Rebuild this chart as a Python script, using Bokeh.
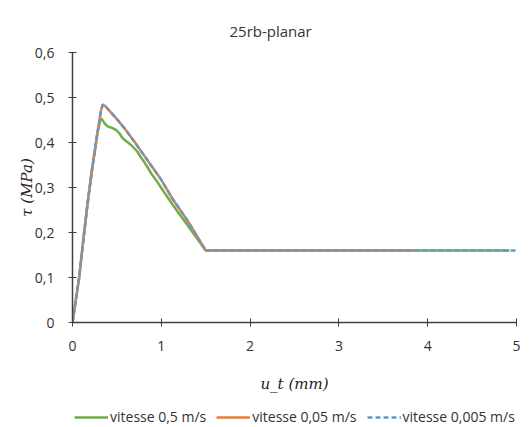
from bokeh.plotting import figure
from bokeh.layouts import column
from bokeh.models import FixedTicker, CustomJSTickFormatter, Legend, LegendItem, Range1d
from bokeh.embed import file_html
from bokeh.resources import INLINE

# data
x_green = [0, 0.075, 0.12, 0.17, 0.22, 0.28, 0.31, 0.327, 0.36, 0.394, 0.45, 0.49, 0.526, 0.563, 0.61, 0.657,
           0.73, 0.77, 0.81, 0.845, 0.9, 0.957, 1.03, 1.1, 1.16, 1.3, 1.5, 2.0, 3.0, 4.0, 4.92]
y_green = [0, 0.1, 0.18, 0.265, 0.34, 0.42, 0.448, 0.453, 0.443, 0.436, 0.432, 0.428, 0.421, 0.41, 0.402, 0.395,
           0.38, 0.367, 0.356, 0.345, 0.327, 0.312, 0.29, 0.27, 0.253, 0.215, 0.16, 0.16, 0.16, 0.16, 0.16]

x_orange = [0, 0.075, 0.12, 0.17, 0.22, 0.28, 0.32, 0.34, 0.37, 0.4, 0.5, 0.6, 0.7, 0.8, 0.9, 1.0, 1.126, 1.3, 1.5,
            2.0, 3.0, 3.85]
y_orange = [0, 0.1, 0.18, 0.265, 0.34, 0.42, 0.47, 0.484, 0.481, 0.474, 0.452, 0.428, 0.401, 0.373, 0.345, 0.317,
            0.275, 0.225, 0.16, 0.16, 0.16, 0.16]

x_blue = [0, 0.075, 0.12, 0.17, 0.22, 0.28, 0.32, 0.34, 0.37, 0.4, 0.5, 0.6, 0.7, 0.8, 0.9, 1.0, 1.126, 1.3, 1.5,
          2.0, 3.0, 4.0, 5.0]
y_blue = [0, 0.1, 0.18, 0.265, 0.34, 0.42, 0.47, 0.484, 0.481, 0.474, 0.452, 0.428, 0.401, 0.373, 0.345, 0.317,
          0.275, 0.225, 0.16, 0.16, 0.16, 0.16, 0.16]

x_ticks = [0, 1, 2, 3, 4, 5]
y_ticks = [0, 0.1, 0.2, 0.3, 0.4, 0.5, 0.6]

series_x = [x_green, x_orange, x_blue]
series_y = [y_green, y_orange, y_blue]
series_labels = ["vitesse 0,5 m/s", "vitesse 0,05 m/s", "vitesse 0,005 m/s"]
series_colors = ["#70AD47", "#ED7D31", "#5B9BD5"]
series_dash = ["solid", "solid", "5 3"]
title_text = "25rb-planar"

FONT = "Open Sans"
AX = "#404040"

p = figure(frame_width=444, frame_height=270, output_backend="svg", toolbar_location=None,
           x_range=Range1d(0, 5), y_range=Range1d(0, 0.6),
           min_border_left=72, min_border_right=4, min_border_top=52, min_border_bottom=70)
p.outline_line_color = None
p.grid.grid_line_color = None

p.title.text = title_text
p.title.align = "left"
p.title.offset = 157
p.title.text_font = FONT
p.title.text_font_size = "15px"
p.title.text_font_style = "normal"
p.title.text_color = "#333333"
p.title.standoff = 24

for xs, ys, col, dsh in zip(series_x, series_y, series_colors, series_dash):
    p.line(xs, ys, line_color=col, line_width=2.5, line_dash=dsh)

p.xaxis.ticker = FixedTicker(ticks=x_ticks)
p.yaxis.ticker = FixedTicker(ticks=y_ticks)
fmt = CustomJSTickFormatter(code="return tick == 0 ? '0' : (Math.round(tick*10)/10).toString().replace('.', ',');")
p.xaxis.formatter = fmt
p.yaxis.formatter = fmt

for ax in (p.xaxis, p.yaxis):
    ax.axis_line_color = AX
    ax.axis_line_width = 1.5
    ax.major_tick_line_color = AX
    ax.major_tick_in = 4
    ax.major_tick_out = 4
    ax.minor_tick_line_color = None
    ax.major_label_text_font = FONT
    ax.major_label_text_font_size = "14px"
    ax.major_label_text_color = "#333333"
    ax.axis_label_text_font = "DejaVu Serif"
    ax.axis_label_text_font_size = "15px"
    ax.axis_label_text_color = "#222222"

p.xaxis.axis_label = "u_t (mm)"
p.xaxis.axis_label_text_font_style = "italic"
p.xaxis.axis_label_standoff = 21
p.xaxis.major_label_standoff = 14
p.yaxis.axis_label = "τ (MPa)"
p.yaxis.axis_label_text_font_style = "italic"
p.yaxis.axis_label_standoff = -4
p.yaxis.major_label_standoff = 14

# legend strip (same series, drawn outside its visible range so only the legend shows)
q = figure(width=520, height=34, output_backend="svg", toolbar_location=None,
           x_axis_type=None, y_axis_type=None,
           x_range=Range1d(0, 5), y_range=Range1d(10, 11), min_border=0)
q.outline_line_color = None
q.grid.grid_line_color = None
items = []
for xs, ys, lab, col, dsh in zip(series_x, series_y, series_labels, series_colors, series_dash):
    r = q.line(xs, ys, line_color=col, line_width=2.5, line_dash=dsh)
    items.append(LegendItem(label=lab, renderers=[r]))
legend = Legend(items=items, orientation="horizontal", location=(2, 3),
                label_text_font=FONT, label_text_font_size="14px", label_text_color="#333333",
                border_line_color=None, background_fill_alpha=0,
                glyph_width=34, glyph_height=16, label_height=16, spacing=10, label_standoff=2,
                padding=0, margin=0)
q.add_layout(legend, "center")

layout = column(p, q, spacing=0)
open("out.html", "w").write(file_html(layout, INLINE))
